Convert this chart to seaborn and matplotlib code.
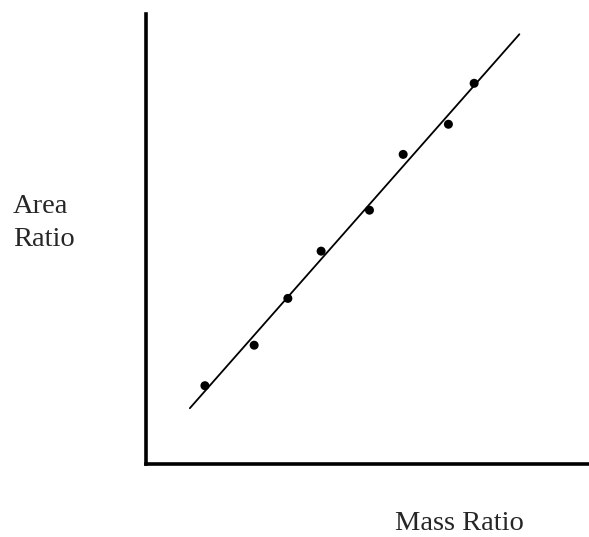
import matplotlib
matplotlib.use("Agg")
import matplotlib.pyplot as plt
import seaborn as sns
import pandas as pd

# Data (arbitrary units)
mass_ratio = [1.34, 2.45, 3.21, 3.96, 5.05, 5.81, 6.83, 7.41]
area_ratio = [1.74, 2.64, 3.68, 4.73, 5.64, 6.88, 7.55, 8.46]
fit_x = [1.00, 8.43]
fit_y = [1.24, 9.55]

sns.set_theme(style="white")
plt.rcParams['font.family'] = ['Liberation Serif', 'DejaVu Serif']

fig = plt.figure(figsize=(5.89, 5.37), dpi=100)
ax = fig.add_axes([145.5 / 589, 73 / 537, (589 - 145.5) / 589, 450 / 537])

pts = pd.DataFrame({"Mass Ratio": mass_ratio, "Area Ratio": area_ratio})
fit = pd.DataFrame({"x": fit_x, "y": fit_y})

sns.lineplot(data=fit, x="x", y="y", ax=ax, color="black", linewidth=1.3)
sns.scatterplot(data=pts, x="Mass Ratio", y="Area Ratio", ax=ax,
                color="black", s=42, edgecolor="none", zorder=3)

ax.set_xlim(0, 10)
ax.set_ylim(0, 10)
ax.set_xticks([])
ax.set_yticks([])
ax.set_xlabel("")
ax.set_ylabel("")
for side in ["top", "right"]:
    ax.spines[side].set_visible(False)
for side in ["left", "bottom"]:
    ax.spines[side].set_color("black")
    ax.spines[side].set_linewidth(2.6)

fig.text(13 / 589, (537 - 213) / 537, "Area", fontsize=20.5, va="baseline", ha="left")
fig.text(13 / 589, (537 - 246.5) / 537, "Ratio", fontsize=20.5, va="baseline", ha="left")
fig.text(395 / 589, (537 - 530) / 537, "Mass Ratio", fontsize=20.5, va="baseline", ha="left")

fig.savefig("out.png", dpi=100, facecolor="white")
